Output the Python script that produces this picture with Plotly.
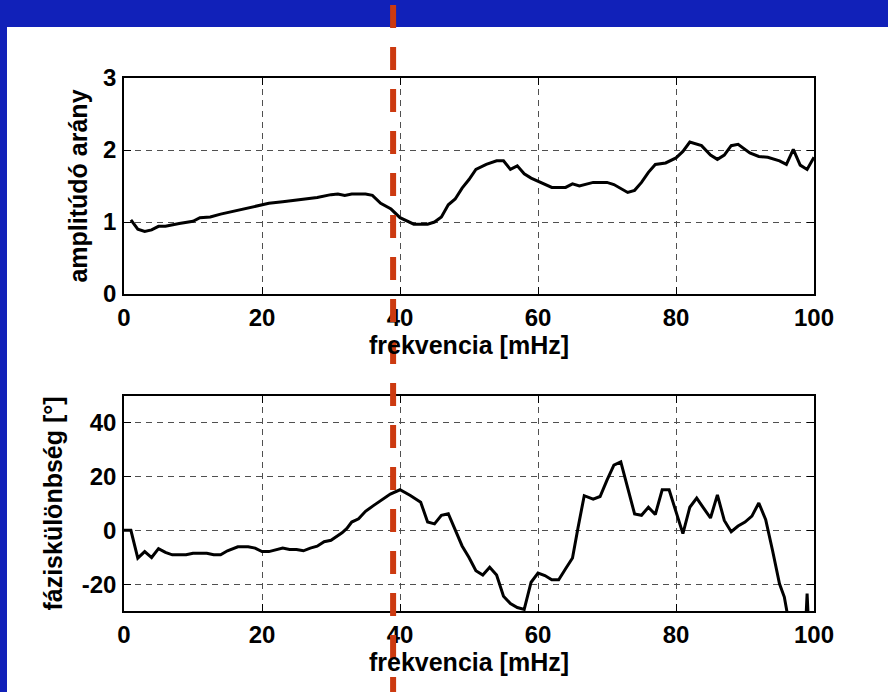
import plotly.graph_objects as go

# ---- data ----
freq_amp = [1, 2, 3, 4, 5, 6, 8, 10, 11, 12.5, 14, 16, 18, 20, 21, 23, 25.5, 28, 30, 31,
            32, 33, 35, 36, 37.2, 38.7, 40, 42, 44, 45, 46, 47, 48, 49, 50, 51, 52.5, 54,
            55, 56, 57, 58, 59, 61, 62, 64, 65, 66, 68, 70, 71, 73, 74, 75, 76, 77, 78.5,
            80, 81, 82, 83.7, 85, 86, 87, 88, 89, 90.7, 92, 93.3, 95, 96, 97, 98, 99, 100]
amplitude = [1.03, 0.90, 0.87, 0.89, 0.94, 0.94, 0.98, 1.01, 1.06, 1.07, 1.11, 1.15, 1.19,
             1.24, 1.26, 1.28, 1.31, 1.34, 1.38, 1.39, 1.37, 1.39, 1.39, 1.37, 1.26, 1.18,
             1.06, 0.97, 0.97, 1.00, 1.07, 1.24, 1.32, 1.47, 1.59, 1.73, 1.80, 1.85, 1.85,
             1.73, 1.78, 1.67, 1.61, 1.52, 1.48, 1.48, 1.53, 1.50, 1.55, 1.55, 1.52, 1.41,
             1.44, 1.55, 1.69, 1.80, 1.82, 1.89, 1.98, 2.11, 2.06, 1.93, 1.87, 1.93, 2.06,
             2.08, 1.96, 1.91, 1.90, 1.85, 1.80, 2.01, 1.79, 1.73, 1.90]

freq_phase = [0, 1, 2, 3, 4, 5, 6, 7, 9, 10, 12, 13, 14, 15, 16.5, 18, 19, 20, 21, 23, 24,
              25, 26, 27, 28, 29, 30, 30.6, 31.6, 32.3, 33, 34, 35, 36.2, 37.4, 38.6, 40,
              41.5, 43, 44, 45, 46, 47, 48, 49, 50, 51, 52, 53, 54, 55, 56, 57, 58, 59, 60,
              61, 62, 63, 64, 65, 65.8, 66.7, 68, 69, 70, 71, 72, 73, 74, 75, 76, 77, 78,
              79, 80, 81, 82, 83, 84, 85, 86, 87, 88, 89, 90, 91, 92, 93, 94, 95, 95.7,
              96.1, 97, 98, 99, 100]
phase = [0, 0, -10.3, -7.9, -10.1, -6.8, -8.2, -9.1, -9.1, -8.5, -8.5, -9.1, -9.1, -7.6,
         -6.1, -6.1, -6.6, -7.9, -7.9, -6.6, -7.1, -7.1, -7.6, -6.6, -5.9, -4.2, -3.7,
         -2.7, -0.9, 0.7, 3.1, 4.3, 7.1, 9.3, 11.4, 13.5, 15.1, 13.0, 10.5, 3.1, 2.4, 5.6,
         6.2, 0.4, -5.8, -10.1, -15.0, -16.6, -13.7, -16.6, -24.5, -27.2, -28.7, -29.4,
         -19.3, -15.9, -16.8, -18.4, -18.4, -14.3, -10.3, 1.0, 12.9, 11.6, 12.6, 18.7,
         24.3, 25.5, 15.3, 6.1, 5.6, 8.6, 5.9, 15.1, 15.1, 7.1, -1.2, 8.6, 12.0, 8.3, 4.6,
         13.2, 3.7, -0.5, 1.6, 3.1, 5.3, 10.2, 4.0, -7.6, -19.9, -24.8, -30.5, -50, -80,
         -23.5, -80]

marker_freq = 39

x_ticks = [0, 20, 40, 60, 80, 100]
amp_ticks = [0, 1, 2, 3]
phase_ticks = [-20, 0, 20, 40]

x_title = "frekvencia [mHz]"
amp_title = "amplitúdó arány"
phase_title = "fáziskülönbség [°]"

# ---- figure ----
BLUE = "#1121B9"
FONT = "Liberation Sans"
TICK_SIZE = 24
TITLE_SIZE = 25

fig = go.Figure()
fig.add_trace(go.Scatter(x=freq_amp, y=amplitude, mode="lines",
                         line=dict(color="black", width=3), xaxis="x", yaxis="y",
                         showlegend=False, hoverinfo="skip"))
fig.add_trace(go.Scatter(x=freq_phase, y=phase, mode="lines",
                         line=dict(color="black", width=3), xaxis="x2", yaxis="y2",
                         showlegend=False, hoverinfo="skip"))

axis_common = dict(
    showline=True, linecolor="black", linewidth=1.5, mirror="ticks",
    ticks="inside", ticklen=7, tickwidth=1, tickcolor="black",
    showgrid=True, gridcolor="#505050", gridwidth=1, griddash="6px,5px",
    zeroline=False,
    tickfont=dict(family=FONT, size=TICK_SIZE, color="black", weight="bold"),
    title_font=dict(family=FONT, size=TITLE_SIZE, color="black", weight="bold"),
)

fig.update_layout(
    width=888, height=692,
    margin=dict(l=124, r=74, t=78, b=81),
    paper_bgcolor=BLUE, plot_bgcolor="white",
    font=dict(family=FONT, size=TICK_SIZE, color="black", weight="bold"),
    xaxis=dict(axis_common, domain=[0, 1], range=[0, 100], tickvals=x_ticks,
               ticktext=[str(v) for v in x_ticks],
               anchor="y", title=dict(text=x_title, standoff=4), ticklabelstandoff=1),
    yaxis=dict(axis_common, domain=[0.5947, 1], range=[0, 3], tickvals=amp_ticks,
               ticktext=[str(v) for v in amp_ticks],
               anchor="x", title=dict(text=amp_title, standoff=8), ticklabelstandoff=1),
    xaxis2=dict(axis_common, domain=[0, 1], range=[0, 100], tickvals=x_ticks,
                ticktext=[str(v) for v in x_ticks],
                anchor="y2", title=dict(text=x_title, standoff=4), ticklabelstandoff=1),
    yaxis2=dict(axis_common, domain=[0, 0.4034], range=[-30, 50], tickvals=phase_ticks,
                ticktext=[str(v) for v in phase_ticks],
                anchor="x2", title=dict(text=phase_title, standoff=12), ticklabelstandoff=1),
)

# white slide area
fig.add_shape(type="rect", xref="paper", yref="paper",
              x0=(7 - 124) / 690, x1=1.2, y0=-0.3, y1=(611 - 27) / 533,
              fillcolor="white", line=dict(width=0), layer="below")

# red dashed marker line across the whole page
fig.add_shape(type="line", xref="x", yref="paper",
              x0=marker_freq, x1=marker_freq, y0=(611 - 5) / 533, y1=-0.2,
              line=dict(color="#CC3A10", width=6, dash="23px,19px"), layer="above")

fig.write_html("out.html", config={"displayModeBar": False},
               post_script="document.body.style.margin='0';document.body.style.overflow='hidden';")
